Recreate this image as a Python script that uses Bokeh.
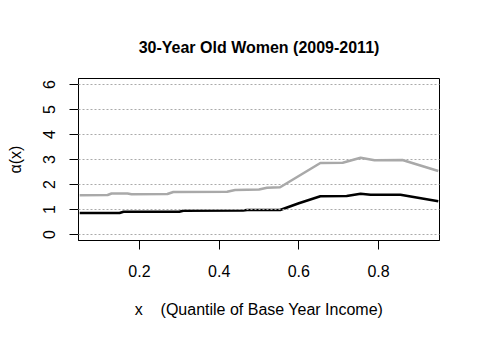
from bokeh.plotting import figure
from bokeh.models import Range1d, FixedTicker
from bokeh.embed import file_html
from bokeh.resources import INLINE

# Data
x_gray = [0.05, 0.12, 0.13, 0.17, 0.18, 0.27, 0.285, 0.42, 0.44, 0.50, 0.52, 0.553,
          0.654, 0.71, 0.755, 0.79, 0.86, 0.95]
y_gray = [1.57, 1.58, 1.64, 1.64, 1.61, 1.62, 1.70, 1.71, 1.78, 1.80, 1.87, 1.89,
          2.86, 2.87, 3.07, 2.97, 2.98, 2.54]

x_black = [0.05, 0.15, 0.16, 0.30, 0.31, 0.46, 0.47, 0.553, 0.60, 0.654, 0.72,
           0.755, 0.78, 0.855, 0.95]
y_black = [0.86, 0.86, 0.91, 0.91, 0.95, 0.96, 0.98, 0.98, 1.25, 1.53, 1.54,
           1.63, 1.59, 1.59, 1.33]

x_ticks = [0.2, 0.4, 0.6, 0.8]
y_ticks = [0, 1, 2, 3, 4, 5, 6]

FONT = "Liberation Sans"

p = figure(output_backend="svg", toolbar_location=None,
           frame_width=361, frame_height=162,
           min_border_left=78, min_border_top=78,
           min_border_right=33, min_border_bottom=90,
           x_range=Range1d(0.047, 0.953), y_range=Range1d(-0.24, 6.24),
           title="30-Year Old Women (2009-2011)")

p.title.align = "center"
p.title.text_font = FONT
p.title.text_font_size = "16px"
p.title.text_font_style = "bold"
p.title.text_color = "black"
p.title.standoff = 46

p.outline_line_color = "black"
p.outline_line_width = 1
p.outline_line_alpha = 1.0
p.background_fill_color = "white"
p.border_fill_color = "white"

p.xgrid.visible = False
p.ygrid.grid_line_color = "#aaaaaa"
p.ygrid.grid_line_dash = "2 2"
p.ygrid.grid_line_width = 1
p.ygrid.level = "overlay"

for ax in (p.xaxis[0], p.yaxis[0]):
    ax.axis_line_color = "black"
    ax.major_tick_line_color = "black"
    ax.major_tick_in = 0
    ax.major_tick_out = 9
    ax.minor_tick_line_color = None
    ax.major_label_text_font = FONT
    ax.major_label_text_font_size = "16px"
    ax.major_label_text_color = "black"
    ax.axis_label_text_font = FONT
    ax.axis_label_text_font_size = "16px"
    ax.axis_label_text_font_style = "normal"
    ax.axis_label_text_color = "black"

p.xaxis.ticker = FixedTicker(ticks=x_ticks)
p.yaxis.ticker = FixedTicker(ticks=y_ticks)
p.yaxis.major_label_orientation = "vertical"
p.xaxis.major_label_standoff = 15
p.yaxis.major_label_standoff = 15
p.xaxis.axis_label = "x\u00a0\u00a0\u00a0\u00a0(Quantile of Base Year Income)"
p.yaxis.axis_label = "\u03b1(x)"
p.xaxis.axis_label_standoff = 21
p.yaxis.axis_label_standoff = 16

p.line(x_gray, y_gray, line_color="#a9a9a9", line_width=2.6)
p.line(x_black, y_black, line_color="black", line_width=2.6)

open("out.html", "w").write(file_html(p, INLINE))
